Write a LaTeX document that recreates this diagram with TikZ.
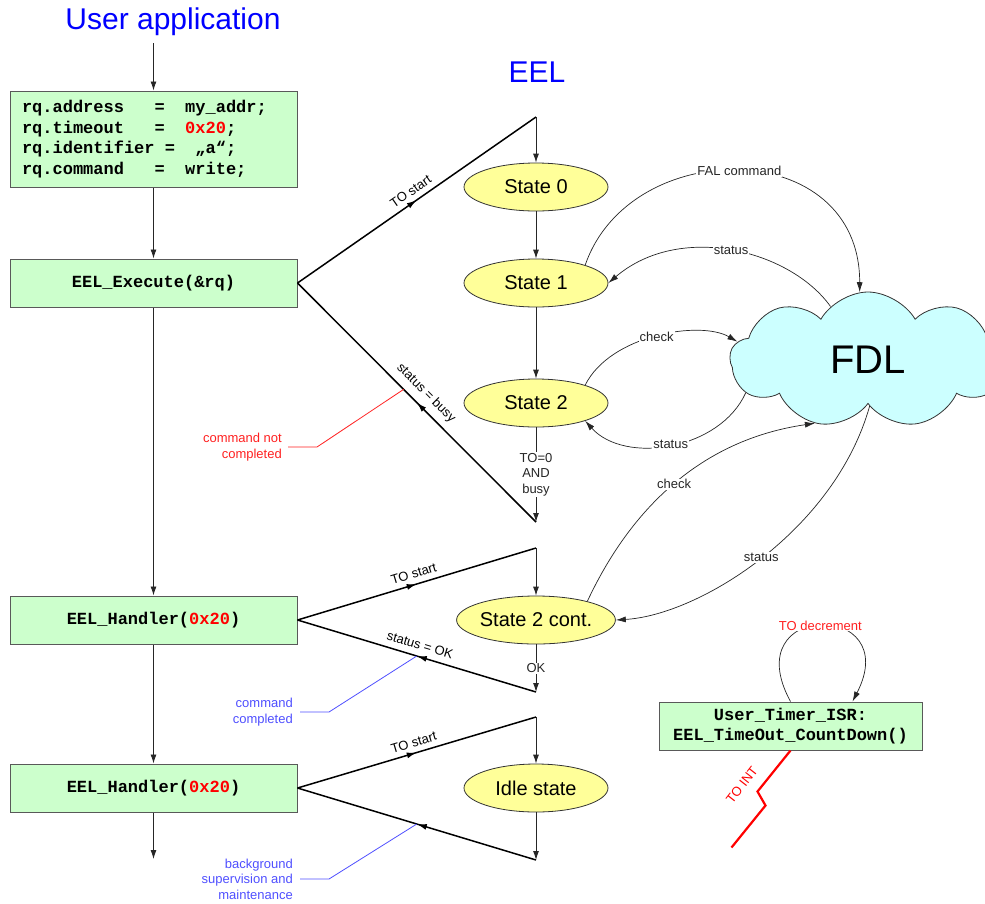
\documentclass[tikz,border=0pt]{standalone}
\usepackage{fontspec}
\setmainfont{Liberation Sans}
\setmonofont{Liberation Mono}
\usetikzlibrary{arrows.meta,shapes.geometric,shapes.symbols,decorations.markings,calc}

\definecolor{boxgreen}{HTML}{CCFFCC}
\definecolor{stateyellow}{HTML}{FFFF99}
\definecolor{cloudcyan}{HTML}{CCFFFF}
\definecolor{callblue}{HTML}{4F4FFF}
\definecolor{callred}{HTML}{FF2020}

\newcommand{\codesp}{\hphantom{0}}

\tikzset{
  codebox/.style={draw=black!65, fill=boxgreen, line width=1pt, inner sep=0pt,
    minimum width=287, minimum height=48, font=\fontsize{17}{20.4}\selectfont\ttfamily\bfseries},
  state/.style={ellipse, draw=black!80, fill=stateyellow, line width=0.8pt, inner sep=0pt,
    minimum width=144, minimum height=48, font=\fontsize{20}{24}\selectfont},
  tag/.style={font=\fontsize{13}{15.5}\selectfont},
  lbl/.style={tag, fill=white, inner sep=1pt},
  flow/.style={line width=0.9pt, black!85, -{Latex[length=9pt,width=6pt]}},
  curve/.style={line width=0.7pt, black!85, -{Latex[length=10pt,width=6pt]}},
  leg/.style={line width=1.5pt, postaction={decorate},
    decoration={markings, mark=at position 0.5 with {\arrow{Latex[length=10pt,width=6pt]}}}},
}

\begin{document}
\begin{tikzpicture}[x=1pt,y=-1pt]
\useasboundingbox (0,0) rectangle (985,903);

% Titles
\node[font=\fontsize{30}{36}\selectfont, text=blue] (user) at (173,22) {User application};
\node[font=\fontsize{30}{36}\selectfont, text=blue] (eel) at (537,72) {EEL};

% User application column
\coordinate (head) at (153.5,43);
\node[codebox, minimum height=96, text width=263, align=left] (req) at (153.5,139) {%
  rq.address\codesp\codesp\codesp=\codesp\codesp my\_addr;\\
  rq.timeout\codesp\codesp\codesp=\codesp\codesp\textcolor{red}{0x20};\\
  rq.identifier\codesp=\codesp\codesp„a“;\\
  rq.command\codesp\codesp\codesp=\codesp\codesp write;};
\node[codebox] (exec) at (153.5,283) {EEL\_Execute(\&rq)};
\node[codebox] (hand1) at (153.5,620) {EEL\_Handler(\textcolor{red}{0x20})};
\node[codebox] (hand2) at (153.5,788) {EEL\_Handler(\textcolor{red}{0x20})};
\coordinate (tail) at (153.5,859);

\foreach \a/\b in {head/req,req/exec,exec/hand1,hand1/hand2,hand2/tail} {
  \draw[flow] (\a) -- (\b);
}

% EEL states
\node[state] (s0) at (536,187) {State 0};
\node[state] (s1) at (536,283) {State 1};
\node[state] (s2) at (536,403) {State 2};
\node[state] (s2c) at (536,620) {State 2 cont.};
\node[state] (idle) at (536,788) {Idle state};

% Corners of the call triangles
\coordinate (t1) at (536,117);
\coordinate (b1) at (536,522);
\coordinate (t2) at (536,548);
\coordinate (b2) at (536,692);
\coordinate (t3) at (536,717);
\coordinate (b3) at (536,860);

% Triangle for EEL_Execute
\draw[leg] (exec.east) -- node[tag, sloped, above=2pt] {TO start} (t1);
\draw[leg] (b1) -- node[tag, sloped, above=3pt] {status = busy} (exec.east);
\draw[flow] (t1) -- (s0);
\foreach \a/\b in {s0/s1,s1/s2} {
  \draw[flow] (\a) -- (\b);
}
\draw[flow] (s2) -- node[lbl, align=center] {TO=0\\AND\\busy} (b1);

% Triangle for first EEL_Handler
\draw[leg] (hand1.east) -- node[tag, sloped, above=2pt] {TO start} (t2);
\draw[leg] (b2) -- node[tag, sloped, above=3pt] {status = OK} (hand1.east);
\draw[flow] (t2) -- (s2c);
\draw[flow] (s2c) -- node[lbl] {OK} (b2);

% Triangle for second EEL_Handler
\draw[leg] (hand2.east) -- node[tag, sloped, above=2pt] {TO start} (t3);
\draw[leg] (b3) -- (hand2.east);
\draw[flow] (t3) -- (idle);
\draw[flow] (idle) -- (b3);

% Callouts
\node[tag, text=callred, align=right, anchor=east, inner xsep=6pt] (notdone) at (288,447) {command not\\completed};
\draw[callred, line width=0.8pt] (notdone.east) -- ++(29,0) -- ($(b1)!0.555!(exec.east)$);
\node[tag, text=callblue, align=right, anchor=east, inner xsep=7pt] (done) at (300,712) {command\\completed};
\draw[callblue, line width=0.8pt] (done.east) -- ++(29,0) -- ($(b2)!0.5!(hand1.east)$);
\node[tag, text=callblue, align=right, anchor=east, inner xsep=7pt] (bg) at (300,879) {background\\supervision and\\maintenance};
\draw[callblue, line width=0.8pt] (bg.east) -- ++(29,0) -- ($(b3)!0.5!(hand2.east)$);

% FDL cloud
\node[cloud, cloud puffs=9, cloud puff arc=120, aspect=2, draw=black!80, fill=cloudcyan,
  line width=0.8pt, minimum width=276, minimum height=136, font=\fontsize{40}{48}\selectfont] (fdl) at (868,360) {FDL};

% Requests and answers between the states and the FDL
\draw[curve] (s1.20) .. controls (630,135) and (860,135) .. node[lbl] {FAL command} (fdl.97);
\draw[curve] (fdl.125) .. controls (790,250) and (680,222) .. node[lbl] {status} (s1.east);
\draw[curve] (s2.20) .. controls (610,335) and (700,320) .. node[lbl] {check} (fdl.172);
\draw[curve] (fdl.195) .. controls (720,450) and (625,465) .. node[lbl] {status} (s2.-20);
\draw[curve] (s2c.20) .. controls (630,510) and (700,440) .. node[lbl] {check} (fdl.230);
\draw[curve] (fdl.272) .. controls (835,530) and (700,615) .. node[lbl] {status} (s2c.east);

% Timer interrupt
\node[codebox, minimum width=263, align=center] (timer) at (790.5,726) {User\_Timer\_ISR:\\EEL\_TimeOut\_CountDown()};
\draw[curve] (timer.north) .. controls (735,600) and (905,600) .. node[lbl, text=callred] {TO decrement} ($(timer.north)+(62,0)$);
\draw[red, line width=2.2pt, line join=miter] (timer.south) -- ++(-33,41) -- ++(8,14) -- ++(-34,42);
\node[tag, text=red, rotate=52] (toint) at (742,785) {TO INT};
\end{tikzpicture}
\end{document}
